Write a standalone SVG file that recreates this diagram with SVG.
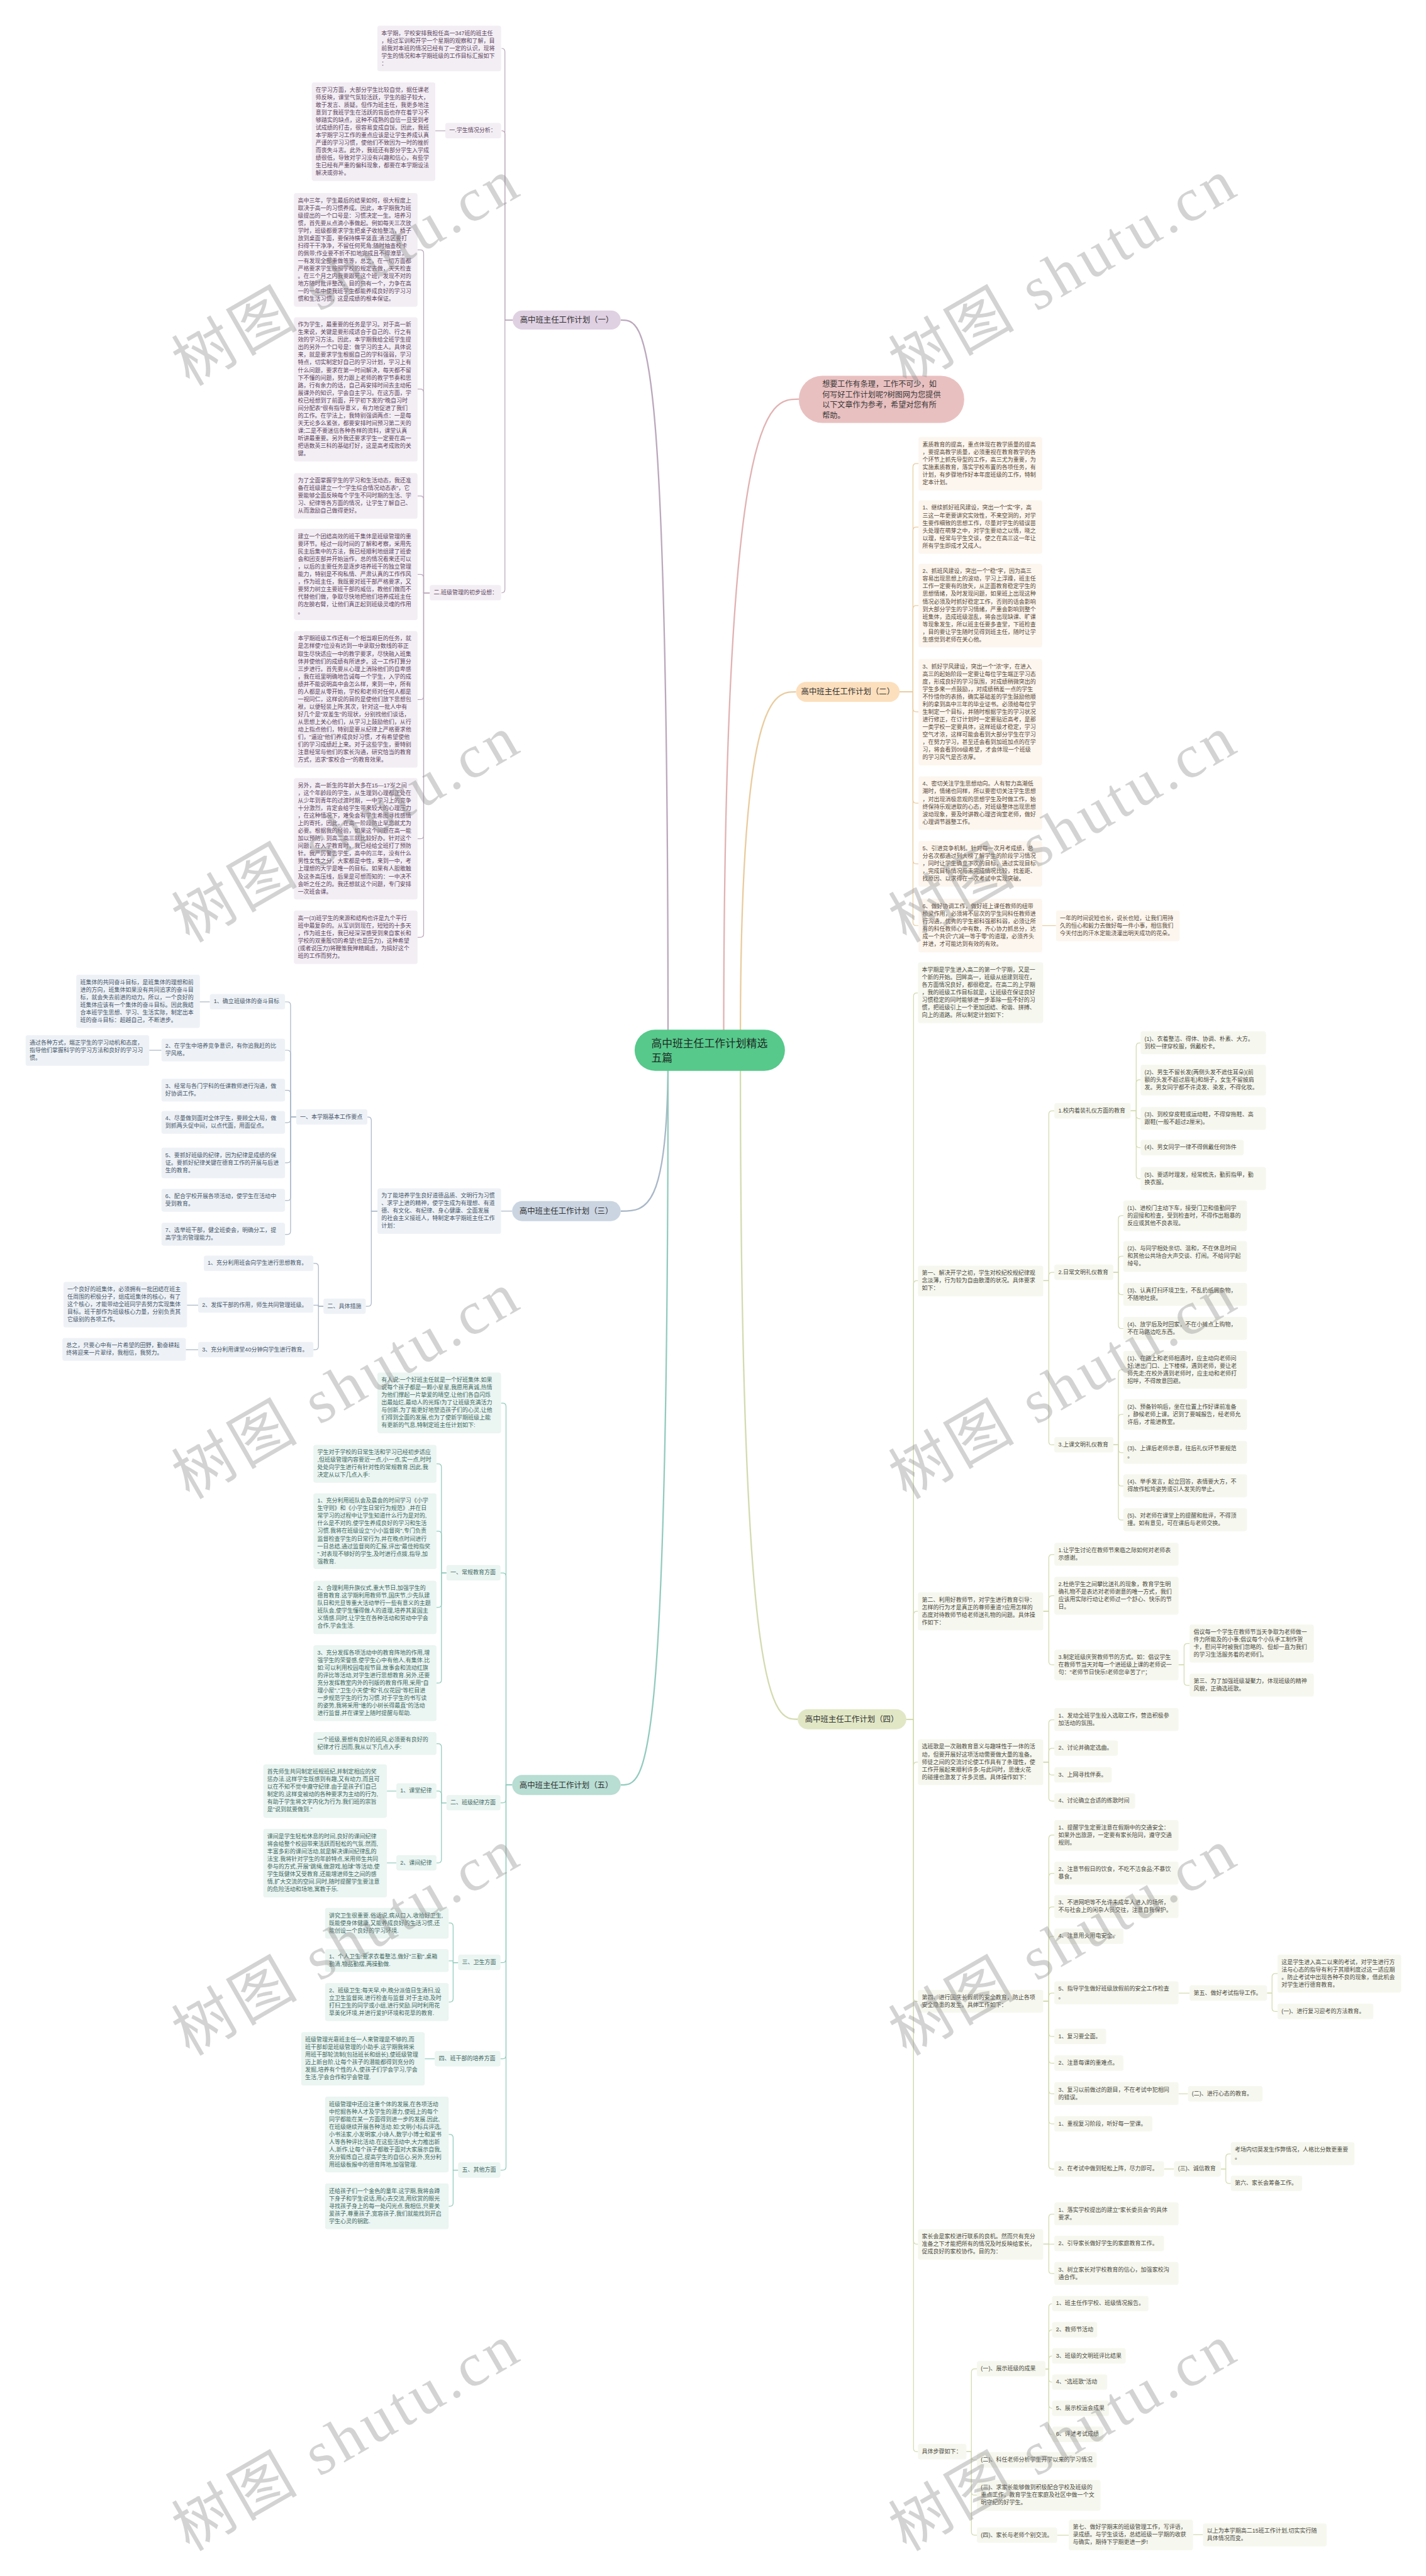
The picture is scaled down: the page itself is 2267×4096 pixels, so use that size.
<svg xmlns="http://www.w3.org/2000/svg" width="2267" height="4096" viewBox="0 0 2267 4096">
<style>
.t{font-family:"Liberation Sans","Noto Sans CJK SC",sans-serif;font-size:10.2px}
.bt{font-family:"Liberation Sans","Noto Sans CJK SC",sans-serif;font-size:14px;fill:#333;text-anchor:middle}
.c1{fill:#5e4661}.c2{fill:#5b4b3b}.c3{fill:#46566b}.c4{fill:#4b4b42}.c5{fill:#3f6a62}
.f1{fill:#f3eef4}.f2{fill:#fcf6ee}.f3{fill:#eef2f6}.f4{fill:#f6f7ee}.f5{fill:#ebf5f2}
.ln{fill:none;stroke-width:1.4}
.mn{fill:none;stroke-width:2.6}
.s1{stroke:#bba8bd}.s2{stroke:#e9cc9f}.s3{stroke:#a9b7c7}.s4{stroke:#d3dbb0}.s5{stroke:#93cbbd}.s0{stroke:#e2b2b2}
.wm{fill:#8c8c8c;fill-opacity:0.38;font-size:110px}
</style>
<rect x="0" y="0" width="2267" height="4096" fill="#ffffff"/>
<g transform="scale(0.885)">
<g id="connectors">
<path class="mn s0" d="M1300 1870C1300 717 1380 717 1435 717"/>
<path class="mn s2" d="M1330 1865C1330 1243 1390 1243 1430 1243"/>
<path class="mn s4" d="M1330 1910C1330 3089 1390 3089 1433 3089"/>
<path class="mn s1" d="M1200 1870C1200 575 1160 575 1115 575"/>
<path class="mn s3" d="M1200 1900C1200 2176 1160 2176 1115 2176"/>
<path class="mn s5" d="M1200 1910C1200 3207 1160 3207 1115 3207"/>
<g class="ln s1">
<path d="M921 575H907V93Q907 87 901 87"/>
<path d="M921 575H907V241Q907 235 901 235"/>
<path d="M921 575H907V1059Q907 1065 901 1065"/>
<path d="M800 235H782"/>
<path d="M772 1065H761V455Q761 449 755 449H750"/>
<path d="M772 1065H761V705Q761 699 755 699H750"/>
<path d="M772 1065H761V897Q761 891 755 891H750"/>
<path d="M772 1065H761V1038Q761 1032 755 1032H750"/>
<path d="M772 1065H761V1251Q761 1257 755 1257H750"/>
<path d="M772 1065H761V1501Q761 1507 755 1507H750"/>
<path d="M772 1065H761V1678Q761 1684 755 1684H750"/>
</g>
<g class="ln s2">
<path d="M1616 1243H1640V839Q1640 833 1646 833H1650"/>
<path d="M1616 1243H1640V953Q1640 947 1646 947H1650"/>
<path d="M1616 1243H1640V1094Q1640 1088 1646 1088H1650"/>
<path d="M1616 1243H1640V1273Q1640 1279 1646 1279H1650"/>
<path d="M1616 1243H1640V1437Q1640 1443 1646 1443H1650"/>
<path d="M1616 1243H1640V1546Q1640 1552 1646 1552H1650"/>
<path d="M1616 1243H1640V1657Q1640 1663 1646 1663H1650"/>
<path d="M1872 1663H1897"/>
</g>
<g class="ln s3">
<path d="M920 2176H900"/>
<path d="M678 2176H667V2013Q667 2007 661 2007H660"/>
<path d="M678 2176H667V2341Q667 2347 661 2347H657"/>
<path d="M532 2007H522V1806Q522 1800 516 1800H512"/>
<path d="M532 2007H522V1893Q522 1887 516 1887H512"/>
<path d="M532 2007H522V1965Q522 1959 516 1959H512"/>
<path d="M532 2007H522V2011Q522 2017 516 2017H512"/>
<path d="M532 2007H522V2083Q522 2089 516 2089H512"/>
<path d="M532 2007H522V2151Q522 2157 516 2157H512"/>
<path d="M532 2007H522V2212Q522 2218 516 2218H512"/>
<path d="M377 1800H358"/>
<path d="M290 1887H268"/>
<path d="M581 2347H572V2276Q572 2270 566 2270H563"/>
<path d="M581 2347H572V2345H563"/>
<path d="M581 2347H572V2419Q572 2425 566 2425H563"/>
<path d="M356 2345H335"/>
<path d="M356 2425H333"/>
</g>
<g class="ln s4">
<path d="M1628 3089H1641V1790Q1641 1784 1647 1784H1649"/>
<path d="M1628 3089H1641V2307Q1641 2301 1647 2301H1649"/>
<path d="M1628 3089H1641V2901Q1641 2895 1647 2895H1649"/>
<path d="M1628 3089H1641V3172Q1641 3166 1647 3166H1649"/>
<path d="M1628 3089H1641V3590Q1641 3596 1647 3596H1649"/>
<path d="M1628 3089H1641V4026Q1641 4032 1647 4032H1649"/>
<path d="M1628 3089H1641V4399Q1641 4405 1647 4405H1649"/>
<path d="M1874 2301H1884V2002Q1884 1996 1890 1996H1894"/>
<path d="M1874 2301H1884V2292Q1884 2286 1890 2286H1894"/>
<path d="M1874 2301H1884V2590Q1884 2596 1890 2596H1894"/>
<path d="M2031 1996H2041V1880Q2041 1874 2047 1874H2049"/>
<path d="M2031 1996H2041V1946Q2041 1940 2047 1940H2049"/>
<path d="M2031 1996H2041V2004Q2041 2010 2047 2010H2049"/>
<path d="M2031 1996H2041V2056Q2041 2062 2047 2062H2049"/>
<path d="M2031 1996H2041V2112Q2041 2118 2047 2118H2049"/>
<path d="M2000 2286H2009V2190Q2009 2184 2015 2184H2018"/>
<path d="M2000 2286H2009V2263Q2009 2257 2015 2257H2018"/>
<path d="M2000 2286H2009V2320Q2009 2326 2015 2326H2018"/>
<path d="M2000 2286H2009V2381Q2009 2387 2015 2387H2018"/>
<path d="M2000 2596H2009V2467Q2009 2461 2015 2461H2018"/>
<path d="M2000 2596H2009V2547Q2009 2541 2015 2541H2018"/>
<path d="M2000 2596H2009V2604Q2009 2610 2015 2610H2018"/>
<path d="M2000 2596H2009V2664Q2009 2670 2015 2670H2018"/>
<path d="M2000 2596H2009V2725Q2009 2731 2015 2731H2018"/>
<path d="M1874 2895H1884V2799Q1884 2793 1890 2793H1894"/>
<path d="M1874 2895H1884V2873Q1884 2867 1890 2867H1894"/>
<path d="M1874 2895H1884V2985Q1884 2991 1890 2991H1894"/>
<path d="M2117 2991H2127V2959Q2127 2953 2133 2953H2137"/>
<path d="M2117 2991H2127V3022Q2127 3028 2133 3028H2137"/>
<path d="M1874 3166H1884V3096Q1884 3090 1890 3090H1894"/>
<path d="M1874 3166H1884V3147Q1884 3141 1890 3141H1894"/>
<path d="M1874 3166H1884V3183Q1884 3189 1890 3189H1894"/>
<path d="M1874 3166H1884V3230Q1884 3236 1890 3236H1894"/>
<path d="M1874 3596H1884V3303Q1884 3297 1890 3297H1894"/>
<path d="M1874 3596H1884V3372Q1884 3366 1890 3366H1894"/>
<path d="M1874 3596H1884V3432Q1884 3426 1890 3426H1894"/>
<path d="M1874 3596H1884V3485Q1884 3479 1890 3479H1894"/>
<path d="M1874 3596H1884V3587Q1884 3581 1890 3581H1894"/>
<path d="M1874 3596H1884V3653Q1884 3659 1890 3659H1894"/>
<path d="M1874 3596H1884V3701Q1884 3707 1890 3707H1894"/>
<path d="M1874 3596H1884V3756Q1884 3762 1890 3762H1894"/>
<path d="M1874 3596H1884V3810Q1884 3816 1890 3816H1894"/>
<path d="M1874 3596H1884V3891Q1884 3897 1890 3897H1894"/>
<path d="M2117 3581H2137"/>
<path d="M2276 3581H2285V3552Q2285 3546 2291 3546H2295"/>
<path d="M2276 3581H2285V3608Q2285 3614 2291 3614H2295"/>
<path d="M2117 3762H2134"/>
<path d="M2091 3897H2109"/>
<path d="M2193 3897H2202V3876Q2202 3870 2208 3870H2211"/>
<path d="M2193 3897H2202V3917Q2202 3923 2208 3923H2211"/>
<path d="M1874 4032H1884V3984Q1884 3978 1890 3978H1894"/>
<path d="M1874 4032H1894"/>
<path d="M1874 4032H1884V4079Q1884 4085 1890 4085H1894"/>
<path d="M1736 4405H1745V4262Q1745 4256 1751 4256H1755"/>
<path d="M1736 4405H1745V4414Q1745 4420 1751 4420H1755"/>
<path d="M1736 4405H1745V4477Q1745 4483 1751 4483H1755"/>
<path d="M1736 4405H1745V4549Q1745 4555 1751 4555H1755"/>
<path d="M1878 4256H1884V4145Q1884 4139 1890 4139"/>
<path d="M1878 4256H1884V4192Q1884 4186 1890 4186"/>
<path d="M1878 4256H1884V4239Q1884 4233 1890 4233"/>
<path d="M1878 4256H1884V4274Q1884 4280 1890 4280"/>
<path d="M1878 4256H1884V4321Q1884 4327 1890 4327"/>
<path d="M1878 4256H1884V4368Q1884 4374 1890 4374"/>
<path d="M1899 4555H1920"/>
<path d="M2143 4554H2161"/>
</g>
<g class="ln s5">
<path d="M920 3207H909V2527Q909 2521 903 2521H900"/>
<path d="M920 3207H909V2832Q909 2826 903 2826H899"/>
<path d="M920 3207H909V3233Q909 3239 903 3239H899"/>
<path d="M920 3207H909V3520Q909 3526 903 3526H899"/>
<path d="M920 3207H909V3693Q909 3699 903 3699H899"/>
<path d="M920 3207H909V3893Q909 3899 903 3899H899"/>
<path d="M802 2826H793V2636Q793 2630 787 2630H784"/>
<path d="M802 2826H793V2757Q793 2751 787 2751H784"/>
<path d="M802 2826H793V2882Q793 2888 787 2888H784"/>
<path d="M802 2826H793V3018Q793 3024 787 3024H784"/>
<path d="M802 3239H793V3139Q793 3133 787 3133H784"/>
<path d="M802 3239H793V3224Q793 3218 787 3218H784"/>
<path d="M802 3239H793V3341Q793 3347 787 3347H784"/>
<path d="M712 3218H695"/>
<path d="M712 3347H695"/>
<path d="M823 3526H814V3461Q814 3455 808 3455H806"/>
<path d="M823 3526H814V3523H806"/>
<path d="M823 3526H814V3591Q814 3597 808 3597H806"/>
<path d="M781 3699H763"/>
<path d="M823 3899H814V3841Q814 3835 808 3835H806"/>
<path d="M823 3899H814V3958Q814 3964 808 3964H806"/>
</g>
</g>

<g id="center">
<rect x="1140" y="1850" width="270" height="74" rx="37" fill="#56c98b"/>
<text font-family="Liberation Sans,Noto Sans CJK SC,sans-serif" font-size="19" fill="#1f2a24" x="1170" y="1881">高中班主任工作计划精选<tspan x="1170" dy="26">五篇</tspan></text>
</g>
<g id="intro">
<rect x="1435" y="675" width="297" height="85" rx="42" fill="#e9c0c0"/>
<text font-family="Liberation Sans,Noto Sans CJK SC,sans-serif" font-size="13.7" fill="#3a3a3a" x="1477" y="695">想要工作有条理，工作不可少，如<tspan x="1477" dy="18.7">何写好工作计划呢?树图网为您提供</tspan><tspan x="1477" dy="18.7">以下文章作为参考，希望对您有所</tspan><tspan x="1477" dy="18.7">帮助。</tspan></text>
</g>

<g id="branch1"><rect x="921" y="558" width="194" height="34" rx="17" fill="#dfd0e2"/><text class="bt" x="1018" y="580">高中班主任工作计划（一）</text></g>
<g id="branch2"><rect x="1430" y="1225" width="186" height="36" rx="18" fill="#fcdfbd"/><text class="bt" x="1523" y="1248">高中班主任工作计划（二）</text></g>
<g id="branch3"><rect x="920" y="2158" width="195" height="36" rx="18" fill="#cbd5e2"/><text class="bt" x="1017" y="2181">高中班主任工作计划（三）</text></g>
<g id="branch4"><rect x="1433" y="3071" width="195" height="36" rx="18" fill="#e1e7c5"/><text class="bt" x="1530" y="3094">高中班主任工作计划（四）</text></g>
<g id="branch5"><rect x="920" y="3189" width="195" height="36" rx="18" fill="#b8ddd3"/><text class="bt" x="1017" y="3212">高中班主任工作计划（五）</text></g>

<g id="p1">
<g id="p1-b1"><rect class="f1" x="678" y="46" width="222" height="82" rx="4"/><text class="t c1" x="685" y="62.8">本学期，学校安排我担任高一347班的班主任<tspan x="685" dy="13.6">，经过军训和开学一个星期的观察和了解，目</tspan><tspan x="685" dy="13.6">前我对本班的情况已经有了一定的认识，现将</tspan><tspan x="685" dy="13.6">学生的情况和本学期班级的工作目标汇报如下</tspan><tspan x="685" dy="13.6">：</tspan></text></g>
<g id="p1-l1"><rect class="f1" x="800" y="221" width="100" height="27.6" rx="4"/><text class="t c1" x="807" y="237.8">一.学生情况分析：</text></g>
<g id="p1-b2"><rect class="f1" x="560" y="148" width="222" height="177" rx="4"/><text class="t c1" x="567" y="164.8">在学习方面，大部分学生比较自觉，据任课老<tspan x="567" dy="13.6">师反映，课堂气氛较活跃，学生的胆子较大，</tspan><tspan x="567" dy="13.6">敢于发言、质疑。但作为班主任，我更多地注</tspan><tspan x="567" dy="13.6">意到了我班学生在活跃的背后也存在着学习不</tspan><tspan x="567" dy="13.6">够踏实的缺点，这种不成熟的自信一旦受到考</tspan><tspan x="567" dy="13.6">试成绩的打击，很容易变成自馁。因此，我班</tspan><tspan x="567" dy="13.6">本学期学习工作的重点应该是让学生养成认真</tspan><tspan x="567" dy="13.6">严谨的学习习惯，使他们不致因为一时的挫折</tspan><tspan x="567" dy="13.6">而丧失斗志。此外，我班还有部分学生入学成</tspan><tspan x="567" dy="13.6">绩很低，导致对学习没有兴趣和信心，有些学</tspan><tspan x="567" dy="13.6">生已经有严重的偏科现象，都要在本学期设法</tspan><tspan x="567" dy="13.6">解决或弥补。</tspan></text></g>
<g id="p1-l2"><rect class="f1" x="772" y="1051" width="128" height="27.6" rx="4"/><text class="t c1" x="779" y="1067.8">二.班级管理的初步设想：</text></g>
<g id="p1-b3"><rect class="f1" x="528" y="347" width="222" height="204" rx="4"/><text class="t c1" x="535" y="363.8">高中三年，学生最后的结果如何，很大程度上<tspan x="535" dy="13.6">取决于高一的习惯养成。因此，本学期我为班</tspan><tspan x="535" dy="13.6">级提出的一个口号是：习惯决定一生。培养习</tspan><tspan x="535" dy="13.6">惯，首先要从点滴小事做起。例如每天三次放</tspan><tspan x="535" dy="13.6">学时，班级都要求学生把桌子收拾整洁，椅子</tspan><tspan x="535" dy="13.6">放到桌面下面，要保持横平竖直;清洁区要打</tspan><tspan x="535" dy="13.6">扫得干干净净，不留任何死角;随时抽查校卡</tspan><tspan x="535" dy="13.6">的佩带;作业要不折不扣地完成且不得潦草，</tspan><tspan x="535" dy="13.6">一有发现全部重做等等，总之，在一切方面都</tspan><tspan x="535" dy="13.6">严格要求学生按照学校的规定去做，天天检查</tspan><tspan x="535" dy="13.6">。在三个月之内我要跟死这个班，发现不对的</tspan><tspan x="535" dy="13.6">地方随时批评整改。目的只有一个，力争在高</tspan><tspan x="535" dy="13.6">一的一年中使我班学生都能养成良好的学习习</tspan><tspan x="535" dy="13.6">惯和生活习惯，这是成绩的根本保证。</tspan></text></g>
<g id="p1-b4"><rect class="f1" x="528" y="570" width="222" height="259" rx="4"/><text class="t c1" x="535" y="586.8">作为学生，最重要的任务是学习。对于高一新<tspan x="535" dy="13.6">生来说，关键是要形成适合于自己的、行之有</tspan><tspan x="535" dy="13.6">效的学习方法。因此，本学期我给全班学生提</tspan><tspan x="535" dy="13.6">出的另外一个口号是：做学习的主人。具体说</tspan><tspan x="535" dy="13.6">来，就是要求学生根据自己的学科强弱，学习</tspan><tspan x="535" dy="13.6">特点，切实制定好自己的学习计划，学习上有</tspan><tspan x="535" dy="13.6">什么问题，要求在第一时间解决，每天都不留</tspan><tspan x="535" dy="13.6">下不懂的问题，努力跟上老师的教学节奏和思</tspan><tspan x="535" dy="13.6">路，行有余力的话，自己再安排时间去主动拓</tspan><tspan x="535" dy="13.6">展课外的知识，学会自主学习。在这方面，学</tspan><tspan x="535" dy="13.6">校已经想到了前面，开学初下发的"晚自习时</tspan><tspan x="535" dy="13.6">间分配表"很有指导意义，有力地促进了我们</tspan><tspan x="535" dy="13.6">的工作。在学法上，我特别强调两点：一是每</tspan><tspan x="535" dy="13.6">天无论多么紧张，都要安排时间预习第二天的</tspan><tspan x="535" dy="13.6">课;二是不要迷信各种各样的资料，课堂认真</tspan><tspan x="535" dy="13.6">听讲最重要。另外我还要求学生一定要在高一</tspan><tspan x="535" dy="13.6">把语数英三科的基础打好，这是高考成败的关</tspan><tspan x="535" dy="13.6">键。</tspan></text></g>
<g id="p1-b5"><rect class="f1" x="528" y="850" width="222" height="82" rx="4"/><text class="t c1" x="535" y="866.8">为了全面掌握学生的学习和生活动态，我还准<tspan x="535" dy="13.6">备在班级建立一个"学生综合情况动态表"，它</tspan><tspan x="535" dy="13.6">要能够全面反映每个学生不同时期的生活、学</tspan><tspan x="535" dy="13.6">习、纪律等各方面的情况，让学生了解自己、</tspan><tspan x="535" dy="13.6">从而激励自己做得更好。</tspan></text></g>
<g id="p1-b6"><rect class="f1" x="528" y="950" width="222" height="164" rx="4"/><text class="t c1" x="535" y="966.8">建立一个团结高效的班干集体是班级管理的重<tspan x="535" dy="13.6">要环节。经过一段时间的了解和考察，采用先</tspan><tspan x="535" dy="13.6">民主后集中的方法，我已经顺利地组建了班委</tspan><tspan x="535" dy="13.6">会和团支部并开始运作，总的情况看来还可以</tspan><tspan x="535" dy="13.6">，以后的主要任务是逐步培养班干的独立管理</tspan><tspan x="535" dy="13.6">能力，特别是不徇私情、严肃认真的工作作风</tspan><tspan x="535" dy="13.6">，作为班主任，我既要对班干部严格要求，又</tspan><tspan x="535" dy="13.6">要努力树立主要班干部的威信，教他们做而不</tspan><tspan x="535" dy="13.6">代替他们做，争取尽快地把他们培养成班主任</tspan><tspan x="535" dy="13.6">的左膀右臂，让他们真正起到班级灵魂的作用</tspan><tspan x="535" dy="13.6">。</tspan></text></g>
<g id="p1-b7"><rect class="f1" x="528" y="1134" width="222" height="245" rx="4"/><text class="t c1" x="535" y="1150.8">本学期班级工作还有一个相当艰巨的任务，就<tspan x="535" dy="13.6">是怎样使7位没有达到一中录取分数线的非正</tspan><tspan x="535" dy="13.6">取生尽快适应一中的教学要求，尽快融入班集</tspan><tspan x="535" dy="13.6">体并使他们的成绩有所进步。这一工作打算分</tspan><tspan x="535" dy="13.6">三步进行。首先要从心理上消除他们的自卑感</tspan><tspan x="535" dy="13.6">，我在班里明确地告诫每一个学生，入学的成</tspan><tspan x="535" dy="13.6">绩并不能说明高中会怎么样，来到一中，所有</tspan><tspan x="535" dy="13.6">的人都是从零开始，学校和老师对任何人都是</tspan><tspan x="535" dy="13.6">一视同仁，这样说的目的是使他们放下思想包</tspan><tspan x="535" dy="13.6">袱，以便轻装上阵;其次，针对这一批人中有</tspan><tspan x="535" dy="13.6">好几个是"双差生"的现状，分别找他们谈话，</tspan><tspan x="535" dy="13.6">从思想上关心他们，从学习上鼓励他们，从行</tspan><tspan x="535" dy="13.6">动上指点他们，特别是要从纪律上严格要求他</tspan><tspan x="535" dy="13.6">们，"逼迫"他们养成良好习惯，才有希望使他</tspan><tspan x="535" dy="13.6">们的学习成绩赶上来。对于这些学生，要特别</tspan><tspan x="535" dy="13.6">注意经常与他们的家长沟通，研究恰当的教育</tspan><tspan x="535" dy="13.6">方式，追求"家校合一"的教育效果。</tspan></text></g>
<g id="p1-b8"><rect class="f1" x="528" y="1398" width="222" height="218" rx="4"/><text class="t c1" x="535" y="1414.8">另外，高一新生的年龄大多在15—17岁之间<tspan x="535" dy="13.6">，这个年龄段的学生，从生理到心理都正处在</tspan><tspan x="535" dy="13.6">从少年到青年的过渡时期，一中学习上的竞争</tspan><tspan x="535" dy="13.6">十分激烈，肯定会给学生带来较大的心理压力</tspan><tspan x="535" dy="13.6">，在这种情况下，难免会有学生希图寻找感情</tspan><tspan x="535" dy="13.6">上的寄托，因此，在高一阶段防止早恋就尤为</tspan><tspan x="535" dy="13.6">必要。根据我的经验，如果这个问题在高一能</tspan><tspan x="535" dy="13.6">加以预防，到高二高三就比较好办。针对这个</tspan><tspan x="535" dy="13.6">问题，在入学教育时，我已经给全班打了预防</tspan><tspan x="535" dy="13.6">针。我严厉警告学生，高中的三年，没有什么</tspan><tspan x="535" dy="13.6">男性女性之分，大家都是中性，来到一中，考</tspan><tspan x="535" dy="13.6">上理想的大学是唯一的目标。如果有人胆敢触</tspan><tspan x="535" dy="13.6">及这条高压线，后果是可想而知的：一中决不</tspan><tspan x="535" dy="13.6">会听之任之的。我还想就这个问题，专门安排</tspan><tspan x="535" dy="13.6">一次班会课。</tspan></text></g>
<g id="p1-b9"><rect class="f1" x="528" y="1636" width="222" height="96" rx="4"/><text class="t c1" x="535" y="1652.8">高一(3)班学生的来源和结构也许是九个平行<tspan x="535" dy="13.6">班中最复杂的。从军训到现在，短短的十多天</tspan><tspan x="535" dy="13.6">，作为班主任，我已经深深感受到来自家长和</tspan><tspan x="535" dy="13.6">学校的双重殷切的希望(也是压力)，这种希望</tspan><tspan x="535" dy="13.6">(或者说压力)将鞭策我殚精竭虑，为搞好这个</tspan><tspan x="535" dy="13.6">班的工作而努力。</tspan></text></g>
</g>

<g id="p2">
<g id="p2-a"><rect class="f2" x="1650" y="785" width="222" height="96" rx="4"/><text class="t c2" x="1657" y="801.8">素质教育的提高，重点体现在教学质量的提高<tspan x="1657" dy="13.6">，要提高教学质量，必须重视在教育教学的各</tspan><tspan x="1657" dy="13.6">个环节上抓先导型的工作，高三尤为重要，为</tspan><tspan x="1657" dy="13.6">实施素质教育，落实学校布置的各项任务，有</tspan><tspan x="1657" dy="13.6">计划，有步骤地作好本年度班级的工作，特制</tspan><tspan x="1657" dy="13.6">定本计划。</tspan></text></g>
<g id="p2-1"><rect class="f2" x="1650" y="899" width="222" height="96" rx="4"/><text class="t c2" x="1657" y="915.8">1、继续抓好班风建设，突出一个"实"字，高<tspan x="1657" dy="13.6">三这一年更要讲究实效性，不来空洞的，对学</tspan><tspan x="1657" dy="13.6">生要作细致的思想工作，尽量对学生的错误苗</tspan><tspan x="1657" dy="13.6">头处理在萌芽之中，对学生要动之以情，晓之</tspan><tspan x="1657" dy="13.6">以理，经常与学生交谈，使之在高三这一年让</tspan><tspan x="1657" dy="13.6">所有学生即成才又成人。</tspan></text></g>
<g id="p2-2"><rect class="f2" x="1650" y="1013" width="222" height="150" rx="4"/><text class="t c2" x="1657" y="1029.8">2、抓班风建设，突出一个"稳"字，因为高三<tspan x="1657" dy="13.6">容易出现思想上的波动，学习上浮躁，班主任</tspan><tspan x="1657" dy="13.6">工作一定要有的放矢，从正面教育稳定学生的</tspan><tspan x="1657" dy="13.6">思想情绪，及时发现问题，如果班上出现这种</tspan><tspan x="1657" dy="13.6">情况必须及时抓好稳定工作，否则的话会影响</tspan><tspan x="1657" dy="13.6">到大部分学生的学习情绪，严重会影响到整个</tspan><tspan x="1657" dy="13.6">班集体，造成班级混乱，将会出现缺课、旷课</tspan><tspan x="1657" dy="13.6">等现象发生，所以班主任要多查堂，下班检查</tspan><tspan x="1657" dy="13.6">，目的要让学生随时见得到班主任，随时让学</tspan><tspan x="1657" dy="13.6">生感觉到老师在关心他。</tspan></text></g>
<g id="p2-3"><rect class="f2" x="1650" y="1184" width="222" height="191" rx="4"/><text class="t c2" x="1657" y="1200.8">3、抓好学风建设，突出一个"浓"字，在进入<tspan x="1657" dy="13.6">高三的起始阶段一定要让每位学生端正学习态</tspan><tspan x="1657" dy="13.6">度，形成良好的学习氛围，对成绩稍微突出的</tspan><tspan x="1657" dy="13.6">学生多来一点鼓励，，对成绩稍差一点的学生</tspan><tspan x="1657" dy="13.6">不怜惜你的表扬，确实基础差的学生鼓励他顺</tspan><tspan x="1657" dy="13.6">利的拿到高中三年的毕业证书。必须给每位学</tspan><tspan x="1657" dy="13.6">生制定一个目标，并随时根据学生的学习状况</tspan><tspan x="1657" dy="13.6">进行修正，在订计划时一定要贴近高考，是那</tspan><tspan x="1657" dy="13.6">一类学校一定要具体，这样班级才稳定，学习</tspan><tspan x="1657" dy="13.6">空气才浓，这样可能会看到大部分学生在学习</tspan><tspan x="1657" dy="13.6">，在努力学习，甚至还会看到加班加点的在学</tspan><tspan x="1657" dy="13.6">习，将会看到09级希望，才会体现一个班级</tspan><tspan x="1657" dy="13.6">的学习风气是否浓厚。</tspan></text></g>
<g id="p2-4"><rect class="f2" x="1650" y="1395" width="222" height="96" rx="4"/><text class="t c2" x="1657" y="1411.8">4、密切关注学生思想动向。人有智力高潮低<tspan x="1657" dy="13.6">潮时，情绪也同样，所以要密切关注学生思想</tspan><tspan x="1657" dy="13.6">，对出现消极悲观的思想学生及时做工作，始</tspan><tspan x="1657" dy="13.6">终保持乐观进取的心态，对班级整体出现思想</tspan><tspan x="1657" dy="13.6">波动现象，要及时讲教心理咨询室老师，做好</tspan><tspan x="1657" dy="13.6">心理调节器整工作。</tspan></text></g>
<g id="p2-5"><rect class="f2" x="1650" y="1511" width="222" height="82" rx="4"/><text class="t c2" x="1657" y="1527.8">5、引进竞争机制。针对每一次月考成绩，总<tspan x="1657" dy="13.6">分名次都通过列大榜了解学生的阶段学习情况</tspan><tspan x="1657" dy="13.6">，同时让学生确立下次的目标，通过实现目标</tspan><tspan x="1657" dy="13.6">，完成目标情况与未完成情况比较，找差距、</tspan><tspan x="1657" dy="13.6">找原因、以求得在一次考试中实现突破。</tspan></text></g>
<g id="p2-6"><rect class="f2" x="1650" y="1615" width="222" height="96" rx="4"/><text class="t c2" x="1657" y="1631.8">6、做好协调工作，做好班上课任教师的纽带<tspan x="1657" dy="13.6">桥梁作用，必须将不层次的学生同科任教师进</tspan><tspan x="1657" dy="13.6">行沟通，优秀的学生那科强那科弱，必须让所</tspan><tspan x="1657" dy="13.6">有的科任教师心中有数，齐心协力抓总分，达</tspan><tspan x="1657" dy="13.6">成一个共识"六减一等于零"的道理，必须齐头</tspan><tspan x="1657" dy="13.6">并进，才可能达到有效的有效。</tspan></text></g>
<g id="p2-7"><rect class="f2" x="1897" y="1636" width="222" height="55" rx="4"/><text class="t c2" x="1904" y="1652.8">一年的时间说短也长，说长也短，让我们用持<tspan x="1904" dy="13.6">久的恒心和毅力去做好每一件小事，相信我们</tspan><tspan x="1904" dy="13.6">今天付出的汗水定能浇灌出明天成功的花朵。</tspan></text></g>
</g>

<g id="p3">
<g id="p3-i"><rect class="f3" x="678" y="2135" width="222" height="82" rx="4"/><text class="t c3" x="685" y="2151.8">为了能培养学生良好道德品质、文明行为习惯<tspan x="685" dy="13.6">、求学上进的精神，使学生成为有理想、有道</tspan><tspan x="685" dy="13.6">德、有文化、有纪律、身心健康、全面发展</tspan><tspan x="685" dy="13.6">的社会主义接班人，特制定本学期班主任工作</tspan><tspan x="685" dy="13.6">计划：</tspan></text></g>
<g id="p3-l1"><rect class="f3" x="532" y="1993" width="128" height="27.6" rx="4"/><text class="t c3" x="539" y="2009.8">一、本学期基本工作要点</text></g>
<g id="p3-l2"><rect class="f3" x="581" y="2333" width="76" height="27.6" rx="4"/><text class="t c3" x="588" y="2349.8">二、具体措施</text></g>
<g id="p3-a1"><rect class="f3" x="377" y="1786" width="135" height="27.6" rx="4"/><text class="t c3" x="384" y="1802.8">1、确立班级体的奋斗目标</text></g>
<g id="p3-a1b"><rect class="f3" x="137" y="1751" width="222" height="96" rx="4"/><text class="t c3" x="144" y="1767.8">班集体的共同奋斗目标，是班集体的理想和前<tspan x="144" dy="13.6">进的方向，班集体如果没有共同追求的奋斗目</tspan><tspan x="144" dy="13.6">标，就会失去前进的动力。所以，一个良好的</tspan><tspan x="144" dy="13.6">班集体应该有一个集体的奋斗目标。因此我结</tspan><tspan x="144" dy="13.6">合本班学生思想、学习、生活实际，制定出本</tspan><tspan x="144" dy="13.6">班的奋斗目标：超越自己，不断进步。</tspan></text></g>
<g id="p3-a2"><rect class="f3" x="290" y="1866" width="222" height="41" rx="4"/><text class="t c3" x="297" y="1882.8">2、在学生中培养竞争意识，有你追我赶的比<tspan x="297" dy="13.6">学风格。</tspan></text></g>
<g id="p3-a2b"><rect class="f3" x="46" y="1860" width="222" height="55" rx="4"/><text class="t c3" x="53" y="1876.8">通过各种方式，端正学生的学习动机和态度，<tspan x="53" dy="13.6">指导他们掌握科学的学习方法和良好的学习习</tspan><tspan x="53" dy="13.6">惯。</tspan></text></g>
<g id="p3-a3"><rect class="f3" x="290" y="1938" width="222" height="41" rx="4"/><text class="t c3" x="297" y="1954.8">3、经常与各门学科的任课教师进行沟通，做<tspan x="297" dy="13.6">好协调工作。</tspan></text></g>
<g id="p3-a4"><rect class="f3" x="290" y="1996" width="222" height="41" rx="4"/><text class="t c3" x="297" y="2012.8">4、尽量做到面对全体学生，要顾全大局，做<tspan x="297" dy="13.6">到抓两头促中间，以点代面，用面促点。</tspan></text></g>
<g id="p3-a5"><rect class="f3" x="290" y="2062" width="222" height="55" rx="4"/><text class="t c3" x="297" y="2078.8">5、要抓好班级的纪律，因为纪律是成绩的保<tspan x="297" dy="13.6">证。要抓好纪律关键在德育工作的开展与后进</tspan><tspan x="297" dy="13.6">生的教育。</tspan></text></g>
<g id="p3-a6"><rect class="f3" x="290" y="2136" width="222" height="41" rx="4"/><text class="t c3" x="297" y="2152.8">6、配合学校开展各项活动，使学生在活动中<tspan x="297" dy="13.6">受到教育。</tspan></text></g>
<g id="p3-a7"><rect class="f3" x="290" y="2197" width="222" height="41" rx="4"/><text class="t c3" x="297" y="2213.8">7、选举班干部，健全班委会，明确分工，提<tspan x="297" dy="13.6">高学生的管理能力。</tspan></text></g>
<g id="p3-c1"><rect class="f3" x="366" y="2256" width="197" height="27.6" rx="4"/><text class="t c3" x="373" y="2272.8">1、充分利用班会向学生进行思想教育。</text></g>
<g id="p3-c2"><rect class="f3" x="356" y="2331" width="207" height="27.6" rx="4"/><text class="t c3" x="363" y="2347.8">2、发挥干部的作用，师生共同管理班级。</text></g>
<g id="p3-c2b"><rect class="f3" x="114" y="2303" width="222" height="82" rx="4"/><text class="t c3" x="121" y="2319.8">一个良好的班集体，必须拥有一批团结在班主<tspan x="121" dy="13.6">任周围的积极分子，组成班集体的核心，有了</tspan><tspan x="121" dy="13.6">这个核心，才能带动全班同学去努力实现集体</tspan><tspan x="121" dy="13.6">目标。班干部作为班级核心力量，分别负责其</tspan><tspan x="121" dy="13.6">它级别的各项工作。</tspan></text></g>
<g id="p3-c3"><rect class="f3" x="356" y="2411" width="207" height="27.6" rx="4"/><text class="t c3" x="363" y="2427.8">3、充分利用课堂40分钟向学生进行教育。</text></g>
<g id="p3-c3b"><rect class="f3" x="112" y="2404" width="222" height="41" rx="4"/><text class="t c3" x="119" y="2420.8">总之，只要心中有一片希望的田野，勤奋耕耘<tspan x="119" dy="13.6">终将迎来一片翠绿，我相信，我努力。</tspan></text></g>
</g>

<g id="p4">
<g id="p4-i"><rect class="f4" x="1649" y="1729" width="225" height="109" rx="4"/><text class="t c4" x="1656" y="1745.8">本学期是学生进入高二的第一个学期，又是一<tspan x="1656" dy="13.6">个新的开始。回眸高一，班级从组建到现在，</tspan><tspan x="1656" dy="13.6">各方面情况良好，都很稳定。在高二的上学期</tspan><tspan x="1656" dy="13.6">，我的班级工作目标就是，让班级在保证良好</tspan><tspan x="1656" dy="13.6">习惯稳定的同时能够进一步革除一些不好的习</tspan><tspan x="1656" dy="13.6">惯，把班级引上一个更加团结、和谐、拼搏、</tspan><tspan x="1656" dy="13.6">向上的道路。所以制定计划如下：</tspan></text></g>
<g id="p4-1"><rect class="f4" x="1649" y="2274" width="225" height="55" rx="4"/><text class="t c4" x="1656" y="2290.8">第一、解决开学之初，学生对校纪校规纪律观<tspan x="1656" dy="13.6">念淡薄，行为较为自由散漫的状况。具体要求</tspan><tspan x="1656" dy="13.6">如下：</tspan></text></g>
<g id="p4-1a"><rect class="f4" x="1894" y="1982" width="137" height="27.6" rx="4"/><text class="t c4" x="1901" y="1998.8">1.校内着装礼仪方面的教育</text></g>
<g id="p4-1a1"><rect class="f4" x="2049" y="1853" width="225" height="41" rx="4"/><text class="t c4" x="2056" y="1869.8">(1)、衣着整洁、得体、协调、朴素、大方。<tspan x="2056" dy="13.6">到校一律穿校服，佩戴校卡。</tspan></text></g>
<g id="p4-1a2"><rect class="f4" x="2049" y="1913" width="225" height="55" rx="4"/><text class="t c4" x="2056" y="1929.8">(2)、男生不留长发(两侧头发不遮住耳朵)(前<tspan x="2056" dy="13.6">额的头发不超过眉毛)和胡子，女生不留披肩</tspan><tspan x="2056" dy="13.6">发。男女同学都不许烫发、染发，不得化妆。</tspan></text></g>
<g id="p4-1a3"><rect class="f4" x="2049" y="1989" width="225" height="41" rx="4"/><text class="t c4" x="2056" y="2005.8">(3)、到校穿皮鞋或运动鞋，不得穿拖鞋、高<tspan x="2056" dy="13.6">跟鞋(一般不超过2厘米)。</tspan></text></g>
<g id="p4-1a4"><rect class="f4" x="2049" y="2048" width="185" height="27.6" rx="4"/><text class="t c4" x="2056" y="2064.8">(4)、男女同学一律不得佩戴任何饰件</text></g>
<g id="p4-1a5"><rect class="f4" x="2049" y="2097" width="225" height="41" rx="4"/><text class="t c4" x="2056" y="2113.8">(5)、要适时理发，经常梳洗，勤剪指甲，勤<tspan x="2056" dy="13.6">换衣服。</tspan></text></g>
<g id="p4-1b"><rect class="f4" x="1894" y="2272" width="106" height="27.6" rx="4"/><text class="t c4" x="1901" y="2288.8">2.日常文明礼仪教育</text></g>
<g id="p4-1b1"><rect class="f4" x="2018" y="2157" width="222" height="55" rx="4"/><text class="t c4" x="2025" y="2173.8">(1)、进校门主动下车，接受门卫和值勤同学<tspan x="2025" dy="13.6">的迎接和检查，受到检查时，不得作出粗暴的</tspan><tspan x="2025" dy="13.6">反应或其他不良表现。</tspan></text></g>
<g id="p4-1b2"><rect class="f4" x="2018" y="2230" width="222" height="55" rx="4"/><text class="t c4" x="2025" y="2246.8">(2)、与同学相处亲切、温和，不在休息时间<tspan x="2025" dy="13.6">和其他公共场合大声交谈、打闹。不给同学起</tspan><tspan x="2025" dy="13.6">绰号。</tspan></text></g>
<g id="p4-1b3"><rect class="f4" x="2018" y="2305" width="222" height="41" rx="4"/><text class="t c4" x="2025" y="2321.8">(3)、认真打扫环境卫生，不乱扔纸屑杂物，<tspan x="2025" dy="13.6">不随地吐痰。</tspan></text></g>
<g id="p4-1b4"><rect class="f4" x="2018" y="2366" width="222" height="41" rx="4"/><text class="t c4" x="2025" y="2382.8">(4)、放学后及时回家，不在小摊点上购物，<tspan x="2025" dy="13.6">不在马路边吃东西。</tspan></text></g>
<g id="p4-1c"><rect class="f4" x="1894" y="2582" width="106" height="27.6" rx="4"/><text class="t c4" x="1901" y="2598.8">3.上课文明礼仪教育</text></g>
<g id="p4-1c1"><rect class="f4" x="2018" y="2427" width="222" height="68" rx="4"/><text class="t c4" x="2025" y="2443.8">(1)、在路上和老师相遇时，应主动向老师问<tspan x="2025" dy="13.6">好;进出门口、上下楼梯，遇到老师，要让老</tspan><tspan x="2025" dy="13.6">师先走;在校外遇到老师时，应主动和老师打</tspan><tspan x="2025" dy="13.6">招呼，不得故意回避。</tspan></text></g>
<g id="p4-1c2"><rect class="f4" x="2018" y="2514" width="222" height="55" rx="4"/><text class="t c4" x="2025" y="2530.8">(2)、预备铃响后，坐在位置上作好课前准备<tspan x="2025" dy="13.6">，静候老师上课。迟到了要喊报告，经老师允</tspan><tspan x="2025" dy="13.6">许后，才能进教室。</tspan></text></g>
<g id="p4-1c3"><rect class="f4" x="2018" y="2589" width="222" height="41" rx="4"/><text class="t c4" x="2025" y="2605.8">(3)、上课后老师示意，往后礼仪环节要规范<tspan x="2025" dy="13.6">。</tspan></text></g>
<g id="p4-1c4"><rect class="f4" x="2018" y="2649" width="222" height="41" rx="4"/><text class="t c4" x="2025" y="2665.8">(4)、举手发言，起立回答，表情要大方，不<tspan x="2025" dy="13.6">得故作松垮姿势或引人发笑的举止。</tspan></text></g>
<g id="p4-1c5"><rect class="f4" x="2018" y="2710" width="222" height="41" rx="4"/><text class="t c4" x="2025" y="2726.8">(5)、对老师在课堂上的提醒和批评，不得顶<tspan x="2025" dy="13.6">撞。如有意见，可在课后与老师交换。</tspan></text></g>
<g id="p4-2"><rect class="f4" x="1649" y="2861" width="225" height="68" rx="4"/><text class="t c4" x="1656" y="2877.8">第二、利用好教师节，对学生进行教育引导：<tspan x="1656" dy="13.6">怎样的行为才是真正的尊师重道?应用怎样的</tspan><tspan x="1656" dy="13.6">态度对待教师节给老师送礼物的问题。具体操</tspan><tspan x="1656" dy="13.6">作如下：</tspan></text></g>
<g id="p4-2a"><rect class="f4" x="1894" y="2772" width="223" height="41" rx="4"/><text class="t c4" x="1901" y="2788.8">1.让学生讨论在教师节来临之际如何对老师表<tspan x="1901" dy="13.6">示感谢。</tspan></text></g>
<g id="p4-2b"><rect class="f4" x="1894" y="2833" width="223" height="68" rx="4"/><text class="t c4" x="1901" y="2849.8">2.杜绝学生之间攀比送礼的现象，教育学生明<tspan x="1901" dy="13.6">确礼物不是表达对老师谢意的唯一方式，我们</tspan><tspan x="1901" dy="13.6">应该用实际行动让老师过一个舒心、快乐的节</tspan><tspan x="1901" dy="13.6">日。</tspan></text></g>
<g id="p4-2c"><rect class="f4" x="1894" y="2964" width="223" height="55" rx="4"/><text class="t c4" x="1901" y="2980.8">3.制定班级庆贺教师节的方式。如：倡议学生<tspan x="1901" dy="13.6">在教师节当天对每一个进班级上课的老师说一</tspan><tspan x="1901" dy="13.6">句："老师节日快乐!老师您辛苦了!"；</tspan></text></g>
<g id="p4-2c1"><rect class="f4" x="2137" y="2919" width="223" height="68" rx="4"/><text class="t c4" x="2144" y="2935.8">倡议每一个学生在教师节当天争取为老师做一<tspan x="2144" dy="13.6">件力所能及的小事;倡议每个小队手工制作贺</tspan><tspan x="2144" dy="13.6">卡，慰问平时被我们忽略的、但却一直为我们</tspan><tspan x="2144" dy="13.6">的学习生活服务着的老师们。</tspan></text></g>
<g id="p4-2c2"><rect class="f4" x="2137" y="3007" width="223" height="41" rx="4"/><text class="t c4" x="2144" y="3023.8">第三、为了加强班级凝聚力，体现班级的精神<tspan x="2144" dy="13.6">风貌，正确选班歌。</tspan></text></g>
<g id="p4-3"><rect class="f4" x="1649" y="3125" width="225" height="82" rx="4"/><text class="t c4" x="1656" y="3141.8">选班歌是一次融教育意义与趣味性于一体的活<tspan x="1656" dy="13.6">动，但要开展好这项活动需要做大量的准备。</tspan><tspan x="1656" dy="13.6">师徒之间的交流讨论使工作具有了条理性，使</tspan><tspan x="1656" dy="13.6">工作开展起来顺利许多;与此同时，思维火花</tspan><tspan x="1656" dy="13.6">的碰撞也激发了许多灵感。具体操作如下：</tspan></text></g>
<g id="p4-3a"><rect class="f4" x="1894" y="3069" width="223" height="41" rx="4"/><text class="t c4" x="1901" y="3085.8">1、发动全班学生投入选取工作，营造积极参<tspan x="1901" dy="13.6">加活动的氛围。</tspan></text></g>
<g id="p4-3b"><rect class="f4" x="1894" y="3127" width="114" height="27.6" rx="4"/><text class="t c4" x="1901" y="3143.8">2、讨论并确定选曲。</text></g>
<g id="p4-3c"><rect class="f4" x="1894" y="3175" width="103" height="27.6" rx="4"/><text class="t c4" x="1901" y="3191.8">3、上网寻找伴奏。</text></g>
<g id="p4-3d"><rect class="f4" x="1894" y="3222" width="145" height="27.6" rx="4"/><text class="t c4" x="1901" y="3238.8">4、讨论确立合适的练歌时间</text></g>
<g id="p4-4"><rect class="f4" x="1649" y="3575" width="225" height="41" rx="4"/><text class="t c4" x="1656" y="3591.8">第四、进行国庆长假前的安全教育，防止各项<tspan x="1656" dy="13.6">安全隐患的发生。具体工作如下：</tspan></text></g>
<g id="p4-4a"><rect class="f4" x="1894" y="3270" width="223" height="55" rx="4"/><text class="t c4" x="1901" y="3286.8">1、提醒学生定要注意在假期中的交通安全：<tspan x="1901" dy="13.6">如果外出旅游，一定要有家长陪同，遵守交通</tspan><tspan x="1901" dy="13.6">规则。</tspan></text></g>
<g id="p4-4b"><rect class="f4" x="1894" y="3345" width="223" height="41" rx="4"/><text class="t c4" x="1901" y="3361.8">2、注意节假日的饮食，不吃不洁食品;不暴饮<tspan x="1901" dy="13.6">暴食。</tspan></text></g>
<g id="p4-4c"><rect class="f4" x="1894" y="3405" width="223" height="41" rx="4"/><text class="t c4" x="1901" y="3421.8">3、不进网吧等不允许未成年人进入的场所，<tspan x="1901" dy="13.6">不与社会上的闲杂人员交往，注意自我保护。</tspan></text></g>
<g id="p4-4d"><rect class="f4" x="1894" y="3465" width="124" height="27.6" rx="4"/><text class="t c4" x="1901" y="3481.8">4、注意用火用电安全。</text></g>
<g id="p4-4e"><rect class="f4" x="1894" y="3560" width="223" height="41" rx="4"/><text class="t c4" x="1901" y="3576.8">5、指导学生做好班级放假前的安全工作检查<tspan x="1901" dy="13.6">。</tspan></text></g>
<g id="p4-4e1"><rect class="f4" x="2137" y="3567" width="139" height="27.6" rx="4"/><text class="t c4" x="2144" y="3583.8">第五、做好考试指导工作。</text></g>
<g id="p4-4e1a"><rect class="f4" x="2295" y="3512" width="222" height="68" rx="4"/><text class="t c4" x="2302" y="3528.8">这是学生进入高二以来的考试，对学生进行方<tspan x="2302" dy="13.6">法与心态的指导有利于其顺利度过这一适应期</tspan><tspan x="2302" dy="13.6">。防止考试中出现各种不良的现象，借此机会</tspan><tspan x="2302" dy="13.6">对学生进行德育教育。</tspan></text></g>
<g id="p4-4e1b"><rect class="f4" x="2295" y="3600" width="172" height="27.6" rx="4"/><text class="t c4" x="2302" y="3616.8">(一)、进行复习迎考的方法教育。</text></g>
<g id="p4-4f"><rect class="f4" x="1894" y="3645" width="93" height="27.6" rx="4"/><text class="t c4" x="1901" y="3661.8">1、复习要全面。</text></g>
<g id="p4-4g"><rect class="f4" x="1894" y="3693" width="124" height="27.6" rx="4"/><text class="t c4" x="1901" y="3709.8">2、注意每课的重难点。</text></g>
<g id="p4-4h"><rect class="f4" x="1894" y="3741" width="223" height="41" rx="4"/><text class="t c4" x="1901" y="3757.8">3、复习以前做过的题目，不在考试中犯相同<tspan x="1901" dy="13.6">的错误。</tspan></text></g>
<g id="p4-4h1"><rect class="f4" x="2134" y="3748" width="134" height="27.6" rx="4"/><text class="t c4" x="2141" y="3764.8">(二)、进行心态的教育。</text></g>
<g id="p4-4i"><rect class="f4" x="1894" y="3802" width="176" height="27.6" rx="4"/><text class="t c4" x="1901" y="3818.8">1、重视复习阶段，听好每一堂课。</text></g>
<g id="p4-4j"><rect class="f4" x="1894" y="3883" width="197" height="27.6" rx="4"/><text class="t c4" x="1901" y="3899.8">2、在考试中做到轻松上阵，尽力即可。</text></g>
<g id="p4-4j1"><rect class="f4" x="2109" y="3883" width="84" height="27.6" rx="4"/><text class="t c4" x="2116" y="3899.8">(三)、诚信教育</text></g>
<g id="p4-4j1a"><rect class="f4" x="2211" y="3849" width="222" height="41" rx="4"/><text class="t c4" x="2218" y="3865.8">考场内切莫发生作弊情况，人格比分数更重要<tspan x="2218" dy="13.6">。</tspan></text></g>
<g id="p4-4j1b"><rect class="f4" x="2211" y="3909" width="128" height="27.6" rx="4"/><text class="t c4" x="2218" y="3925.8">第六、家长会筹备工作。</text></g>
<g id="p4-5"><rect class="f4" x="1649" y="4005" width="225" height="55" rx="4"/><text class="t c4" x="1656" y="4021.8">家长会是家校进行联系的良机。然而只有充分<tspan x="1656" dy="13.6">准备之下才能把所有的情况及时反映给家长，</tspan><tspan x="1656" dy="13.6">促成良好的家校协作。目的为：</tspan></text></g>
<g id="p4-5a"><rect class="f4" x="1894" y="3957" width="223" height="41" rx="4"/><text class="t c4" x="1901" y="3973.8">1、落实学校提出的建立"家长委员会"的具体<tspan x="1901" dy="13.6">要求。</tspan></text></g>
<g id="p4-5b"><rect class="f4" x="1894" y="4017" width="197" height="27.6" rx="4"/><text class="t c4" x="1901" y="4033.8">2、引导家长做好学生的家庭教育工作。</text></g>
<g id="p4-5c"><rect class="f4" x="1894" y="4064" width="223" height="41" rx="4"/><text class="t c4" x="1901" y="4080.8">3、树立家长对学校教育的信心，加强家校沟<tspan x="1901" dy="13.6">通合作。</tspan></text></g>
<g id="p4-6"><rect class="f4" x="1649" y="4391" width="87" height="27.6" rx="4"/><text class="t c4" x="1656" y="4407.8">具体步骤如下：</text></g>
<g id="p4-6a"><rect class="f4" x="1755" y="4242" width="123" height="27.6" rx="4"/><text class="t c4" x="1762" y="4258.8">(一)、展示班级的成果</text></g>
<g id="p4-6a1"><rect class="f4" x="1890" y="4125" width="173" height="27.6" rx="4"/><text class="t c4" x="1897" y="4141.8">1、班主任作学校、班级情况报告。</text></g>
<g id="p4-6a2"><rect class="f4" x="1890" y="4172" width="81" height="27.6" rx="4"/><text class="t c4" x="1897" y="4188.8">2、教师节活动</text></g>
<g id="p4-6a3"><rect class="f4" x="1890" y="4219" width="132" height="27.6" rx="4"/><text class="t c4" x="1897" y="4235.8">3、班级的文明班评比结果</text></g>
<g id="p4-6a4"><rect class="f4" x="1890" y="4266" width="99" height="27.6" rx="4"/><text class="t c4" x="1897" y="4282.8">4、"选班歌"活动</text></g>
<g id="p4-6a5"><rect class="f4" x="1890" y="4313" width="102" height="27.6" rx="4"/><text class="t c4" x="1897" y="4329.8">5、展示校运会成果</text></g>
<g id="p4-6a6"><rect class="f4" x="1890" y="4360" width="92" height="27.6" rx="4"/><text class="t c4" x="1897" y="4376.8">6、评述考试成绩</text></g>
<g id="p4-6b"><rect class="f4" x="1755" y="4406" width="215" height="27.6" rx="4"/><text class="t c4" x="1762" y="4422.8">(二)、科任老师分析学生开学以来的学习情况</text></g>
<g id="p4-6c"><rect class="f4" x="1755" y="4456" width="222" height="55" rx="4"/><text class="t c4" x="1762" y="4472.8">(三)、求家长能够做到积极配合学校及班级的<tspan x="1762" dy="13.6">重点工作，教育学生在家庭及社区中做一个文</tspan><tspan x="1762" dy="13.6">明守纪的好学生。</tspan></text></g>
<g id="p4-6d"><rect class="f4" x="1755" y="4541" width="144" height="27.6" rx="4"/><text class="t c4" x="1762" y="4557.8">(四)、家长与老师个别交流。</text></g>
<g id="p4-6d1"><rect class="f4" x="1920" y="4527" width="223" height="55" rx="4"/><text class="t c4" x="1927" y="4543.8">第七、做好学期末的班级管理工作，写评语，<tspan x="1927" dy="13.6">录成绩。与学生谈话，总结班级一学期的收获</tspan><tspan x="1927" dy="13.6">与确实，期待下学期更进一步!</tspan></text></g>
<g id="p4-6d2"><rect class="f4" x="2161" y="4534" width="222" height="41" rx="4"/><text class="t c4" x="2168" y="4550.8">以上为本学期高二15班工作计划,切实实行随<tspan x="2168" dy="13.6">具体情况而变。</tspan></text></g>
</g>

<g id="p5">
<g id="p5-i"><rect class="f5" x="678" y="2466" width="222" height="109" rx="4"/><text class="t c5" x="685" y="2482.8">有人说:一个好班主任就是一个好班集体.如果<tspan x="685" dy="13.6">说每个孩子都是一颗小星星,我愿用真诚,热情</tspan><tspan x="685" dy="13.6">为他们撑起一片挚爱的晴空,让他们各自闪烁</tspan><tspan x="685" dy="13.6">出最灿烂,最动人的光辉!为了让班级充满活力</tspan><tspan x="685" dy="13.6">与创新,为了能更好地塑造孩子们的心灵,让他</tspan><tspan x="685" dy="13.6">们得到全面的发展,也为了使新学期班级上能</tspan><tspan x="685" dy="13.6">有更新的气息,特制定班主任计划如下:</tspan></text></g>
<g id="p5-l1"><rect class="f5" x="802" y="2812" width="97" height="27.6" rx="4"/><text class="t c5" x="809" y="2828.8">一、常规教育方面</text></g>
<g id="p5-l1a"><rect class="f5" x="563" y="2596" width="221" height="68" rx="4"/><text class="t c5" x="570" y="2612.8">学生对于学校的日常生活和学习已经初步适应<tspan x="570" dy="13.6">,但班级管理内容要近一点,小一点,实一点,时时</tspan><tspan x="570" dy="13.6">处处向学生进行有针对性的常规教育.因此,我</tspan><tspan x="570" dy="13.6">决定从以下几点入手:</tspan></text></g>
<g id="p5-l1b"><rect class="f5" x="563" y="2683" width="221" height="136" rx="4"/><text class="t c5" x="570" y="2699.8">1、充分利用班队会及晨会的时间学习《小学<tspan x="570" dy="13.6">生守则》和《小学生日常行为规范》,并在日</tspan><tspan x="570" dy="13.6">常学习的过程中让学生知道什么行为是对的,</tspan><tspan x="570" dy="13.6">什么是不对的,使学生养成良好的学习和生活</tspan><tspan x="570" dy="13.6">习惯.我将在班级设立"小小监督岗",专门负责</tspan><tspan x="570" dy="13.6">监督检查学生的日常行为,并在晚点时间进行</tspan><tspan x="570" dy="13.6">一日总结,通过监督岗的汇报,评出"最佳拇指奖</tspan><tspan x="570" dy="13.6">".对表现不够好的学生,及时进行点拨,指导,加</tspan><tspan x="570" dy="13.6">强教育.</tspan></text></g>
<g id="p5-l1c"><rect class="f5" x="563" y="2840" width="221" height="96" rx="4"/><text class="t c5" x="570" y="2856.8">2、合理利用升旗仪式,重大节日,加强学生的<tspan x="570" dy="13.6">德育教育.这学期利用教师节,国庆节,少先队建</tspan><tspan x="570" dy="13.6">队日和元旦等重大活动举行一些有意义的主题</tspan><tspan x="570" dy="13.6">班队会,使学生懂得做人的道理,培养其爱国主</tspan><tspan x="570" dy="13.6">义情感.同时,让学生在各种活动和劳动中学会</tspan><tspan x="570" dy="13.6">合作,学会生活.</tspan></text></g>
<g id="p5-l1d"><rect class="f5" x="563" y="2956" width="221" height="136" rx="4"/><text class="t c5" x="570" y="2972.8">3、充分发挥各项活动中的教育阵地的作用,增<tspan x="570" dy="13.6">强学生的荣誉感,使学生心中有他人,有集体.比</tspan><tspan x="570" dy="13.6">如:可以利用校园电视节目,故事会和流动红旗</tspan><tspan x="570" dy="13.6">的评比等活动,对学生进行思想教育.另外,还要</tspan><tspan x="570" dy="13.6">充分发挥教室内外的刊版的教育作用,采用"自</tspan><tspan x="570" dy="13.6">理小屋","卫生小天使"和"礼仪花园"等栏目进</tspan><tspan x="570" dy="13.6">一步规范学生的行为习惯.对于学生的书写读</tspan><tspan x="570" dy="13.6">的姿势,我将采用"谁的小树长得最直"的活动</tspan><tspan x="570" dy="13.6">进行监督,并在课堂上随时提醒与帮助.</tspan></text></g>
<g id="p5-l2"><rect class="f5" x="802" y="3225" width="97" height="27.6" rx="4"/><text class="t c5" x="809" y="3241.8">二、班级纪律方面</text></g>
<g id="p5-l2a"><rect class="f5" x="563" y="3112" width="221" height="41" rx="4"/><text class="t c5" x="570" y="3128.8">一个班级,要想有良好的班风,必须要有良好的<tspan x="570" dy="13.6">纪律才行.因而,我从以下几点入手:</tspan></text></g>
<g id="p5-l2b"><rect class="f5" x="712" y="3204" width="72" height="27.6" rx="4"/><text class="t c5" x="719" y="3220.8">1、课堂纪律</text></g>
<g id="p5-l2b1"><rect class="f5" x="473" y="3170" width="222" height="96" rx="4"/><text class="t c5" x="480" y="3186.8">首先师生共同制定班规班纪,并制定相应的奖<tspan x="480" dy="13.6">惩办法.这样学生既感到有趣,又有动力,而且可</tspan><tspan x="480" dy="13.6">以在不知不觉中遵守纪律.由于是孩子们自己</tspan><tspan x="480" dy="13.6">制定的,这样变被动的各种要求为主动的行为,</tspan><tspan x="480" dy="13.6">有助于学生将文字内化为行为.我们班的宗旨</tspan><tspan x="480" dy="13.6">是"说到就要做到."</tspan></text></g>
<g id="p5-l2c"><rect class="f5" x="712" y="3333" width="72" height="27.6" rx="4"/><text class="t c5" x="719" y="3349.8">2、课间纪律</text></g>
<g id="p5-l2c1"><rect class="f5" x="473" y="3286" width="222" height="123" rx="4"/><text class="t c5" x="480" y="3302.8">课间是学生轻松休息的时间,良好的课间纪律<tspan x="480" dy="13.6">将会给整个校园带来活跃而轻松的气氛.然而,</tspan><tspan x="480" dy="13.6">丰富多彩的课间活动,就是解决课间纪律乱的</tspan><tspan x="480" dy="13.6">法宝.我将针对学生的年龄特点,采用师生共同</tspan><tspan x="480" dy="13.6">参与的方式,开展"跳绳,做游戏,拍球"等活动,使</tspan><tspan x="480" dy="13.6">学生既健体又受教育,还能增进师生之间的感</tspan><tspan x="480" dy="13.6">情,扩大交流的空间.同时,随时提醒学生要注意</tspan><tspan x="480" dy="13.6">的危险活动和场地,寓教于乐.</tspan></text></g>
<g id="p5-l3"><rect class="f5" x="823" y="3512" width="76" height="27.6" rx="4"/><text class="t c5" x="830" y="3528.8">三、卫生方面</text></g>
<g id="p5-l3a"><rect class="f5" x="584" y="3428" width="222" height="55" rx="4"/><text class="t c5" x="591" y="3444.8">讲究卫生很重要.俗话说,病从口入.收拾好卫生,<tspan x="591" dy="13.6">既能使身体健康,又能养成良好的生活习惯,还</tspan><tspan x="591" dy="13.6">能创设一个良好的学习环境.</tspan></text></g>
<g id="p5-l3b"><rect class="f5" x="584" y="3502" width="222" height="41" rx="4"/><text class="t c5" x="591" y="3518.8">1、个人卫生:要求衣着整洁,做好"三勤",桌箱<tspan x="591" dy="13.6">勤清,物品勤摆,两操勤做.</tspan></text></g>
<g id="p5-l3c"><rect class="f5" x="584" y="3563" width="222" height="68" rx="4"/><text class="t c5" x="591" y="3579.8">2、班级卫生:每天早,中,晚分派值日生清扫,设<tspan x="591" dy="13.6">立卫生监督岗,进行检查与监督.对于主动,及时</tspan><tspan x="591" dy="13.6">打扫卫生的同学或小组,进行奖励.同时利用花</tspan><tspan x="591" dy="13.6">草美化环境,并进行爱护环境和花草的教育.</tspan></text></g>
<g id="p5-l4"><rect class="f5" x="781" y="3685" width="118" height="27.6" rx="4"/><text class="t c5" x="788" y="3701.8">四、班干部的培养方面</text></g>
<g id="p5-l4a"><rect class="f5" x="541" y="3651" width="222" height="96" rx="4"/><text class="t c5" x="548" y="3667.8">班级管理光靠班主任一人来管理是不够的,而<tspan x="548" dy="13.6">班干部却是班级管理的小助手.这学期我将采</tspan><tspan x="548" dy="13.6">用班干部轮流制(包括班长和组长),使班级管理</tspan><tspan x="548" dy="13.6">迈上新台阶,让每个孩子的潜能都得到充分的</tspan><tspan x="548" dy="13.6">发掘,培养有个性的人,使孩子们学会学习,学会</tspan><tspan x="548" dy="13.6">生活,学会合作和学会管理.</tspan></text></g>
<g id="p5-l5"><rect class="f5" x="823" y="3885" width="76" height="27.6" rx="4"/><text class="t c5" x="830" y="3901.8">五、其他方面</text></g>
<g id="p5-l5a"><rect class="f5" x="584" y="3767" width="222" height="136" rx="4"/><text class="t c5" x="591" y="3783.8">班级管理中还应注重个体的发展,在各项活动<tspan x="591" dy="13.6">中挖掘各种人才及学生的潜力,使班上的每个</tspan><tspan x="591" dy="13.6">同学都能在某一方面得到进一步的发展.因此,</tspan><tspan x="591" dy="13.6">在班级继续开展各种活动.如:文明小标兵评选,</tspan><tspan x="591" dy="13.6">小书法家,小发明家,小诗人,数学小博士和爱书</tspan><tspan x="591" dy="13.6">人等各种评比活动.在这些活动中,大力推出新</tspan><tspan x="591" dy="13.6">人,新作,让每个孩子都敢于面对大家展示自我,</tspan><tspan x="591" dy="13.6">充分锻炼自己,提高学生的自信心.另外,充分利</tspan><tspan x="591" dy="13.6">用班级板报中的德育阵地,加强管理.</tspan></text></g>
<g id="p5-l5b"><rect class="f5" x="584" y="3923" width="222" height="82" rx="4"/><text class="t c5" x="591" y="3939.8">还给孩子们一个金色的童年.这学期,我将会蹲<tspan x="591" dy="13.6">下身子和学生说话,用心去交流,用欣赏的眼光</tspan><tspan x="591" dy="13.6">寻找孩子身上的每一处闪光点.我相信,只要关</tspan><tspan x="591" dy="13.6">爱孩子,尊重孩子,宽容孩子,我们就能找到开启</tspan><tspan x="591" dy="13.6">学生心灵的钥匙.</tspan></text></g>
</g>

<g id="watermarks" class="wm">
<text transform="translate(340 695) rotate(-30)" textLength="690" lengthAdjust="spacing"><tspan font-family="'Noto Sans CJK SC',sans-serif">树图</tspan><tspan font-family="'Liberation Serif',serif"> shutu.cn</tspan></text>
<text transform="translate(340 1695) rotate(-30)" textLength="690" lengthAdjust="spacing"><tspan font-family="'Noto Sans CJK SC',sans-serif">树图</tspan><tspan font-family="'Liberation Serif',serif"> shutu.cn</tspan></text>
<text transform="translate(340 2695) rotate(-30)" textLength="690" lengthAdjust="spacing"><tspan font-family="'Noto Sans CJK SC',sans-serif">树图</tspan><tspan font-family="'Liberation Serif',serif"> shutu.cn</tspan></text>
<text transform="translate(340 3695) rotate(-30)" textLength="690" lengthAdjust="spacing"><tspan font-family="'Noto Sans CJK SC',sans-serif">树图</tspan><tspan font-family="'Liberation Serif',serif"> shutu.cn</tspan></text>
<text transform="translate(340 4585) rotate(-30)" textLength="690" lengthAdjust="spacing"><tspan font-family="'Noto Sans CJK SC',sans-serif">树图</tspan><tspan font-family="'Liberation Serif',serif"> shutu.cn</tspan></text>
<text transform="translate(1628 695) rotate(-30)" textLength="690" lengthAdjust="spacing"><tspan font-family="'Noto Sans CJK SC',sans-serif">树图</tspan><tspan font-family="'Liberation Serif',serif"> shutu.cn</tspan></text>
<text transform="translate(1628 1695) rotate(-30)" textLength="690" lengthAdjust="spacing"><tspan font-family="'Noto Sans CJK SC',sans-serif">树图</tspan><tspan font-family="'Liberation Serif',serif"> shutu.cn</tspan></text>
<text transform="translate(1628 2695) rotate(-30)" textLength="690" lengthAdjust="spacing"><tspan font-family="'Noto Sans CJK SC',sans-serif">树图</tspan><tspan font-family="'Liberation Serif',serif"> shutu.cn</tspan></text>
<text transform="translate(1628 3695) rotate(-30)" textLength="690" lengthAdjust="spacing"><tspan font-family="'Noto Sans CJK SC',sans-serif">树图</tspan><tspan font-family="'Liberation Serif',serif"> shutu.cn</tspan></text>
<text transform="translate(1628 4585) rotate(-30)" textLength="690" lengthAdjust="spacing"><tspan font-family="'Noto Sans CJK SC',sans-serif">树图</tspan><tspan font-family="'Liberation Serif',serif"> shutu.cn</tspan></text>
</g>
</g>
</svg>
